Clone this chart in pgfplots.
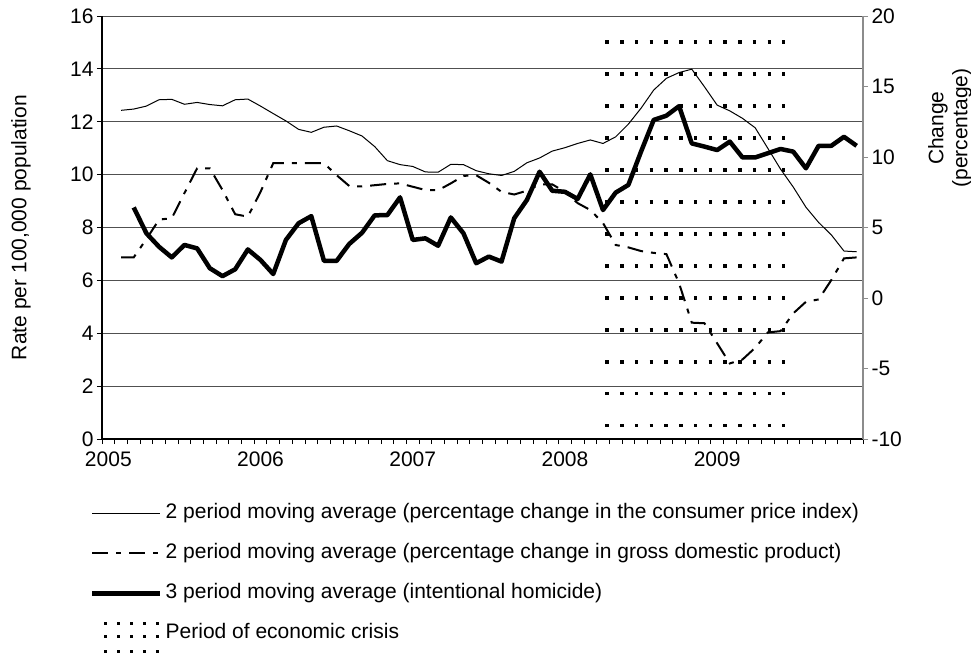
\documentclass[border=0pt]{standalone}
\usepackage{fontspec}
\setmainfont{Liberation Sans}
\usepackage{pgfplots}
\usepackage{pgfplotstable}
\pgfplotsset{compat=1.18}
\definecolor{gridgray}{HTML}{505050}
\definecolor{axisgray}{HTML}{8C8C8C}
\newcommand{\chartfont}{\fontsize{21}{24}\selectfont}

% month index (1 = Jan 2005), right-axis percentages
\pgfplotstableread{
i cpi gdp
2 13.31 2.88
3 13.40 2.88
4 13.61 4.18
5 14.06 5.56
6 14.09 5.66
7 13.74 7.44
8 13.87 9.20
9 13.72 9.20
10 13.63 7.66
11 14.06 5.94
12 14.11 5.77
13 13.61 7.53
14 13.08 9.56
15 12.56 9.56
16 11.96 9.56
17 11.75 9.56
18 12.11 9.56
19 12.20 8.71
20 11.86 7.94
21 11.49 7.91
22 10.74 8.00
23 9.74 8.09
24 9.46 8.13
25 9.33 7.89
26 8.94 7.66
27 8.92 7.64
28 9.48 8.13
29 9.46 8.66
30 9.03 8.71
31 8.81 8.17
32 8.69 7.53
33 8.98 7.34
34 9.59 7.61
35 9.93 8.06
36 10.42 8.06
37 10.66 7.53
38 10.96 6.73
39 11.21 6.24
40 10.96 5.32
41 11.43 3.76
42 12.33 3.59
43 13.46 3.33
44 14.75 3.20
45 15.58 3.11
46 15.99 1.04
47 16.23 -1.75
48 14.98 -1.79
49 13.68 -3.21
50 13.27 -4.64
51 12.74 -4.36
52 12.07 -3.53
53 10.61 -2.44
54 9.14 -2.35
55 7.87 -1.09
56 6.44 -0.27
57 5.36 -0.10
58 4.48 1.27
59 3.33 2.81
60 3.28 2.88
}\macrotable

% intentional homicide, rate per 100,000
\pgfplotstableread{
i rate
3 8.76
4 7.78
5 7.27
6 6.87
7 7.34
8 7.21
9 6.46
10 6.16
11 6.42
12 7.17
13 6.77
14 6.24
15 7.53
16 8.16
17 8.43
18 6.74
19 6.74
20 7.38
21 7.80
22 8.46
23 8.47
24 9.14
25 7.53
26 7.59
27 7.31
28 8.38
29 7.78
30 6.65
31 6.90
32 6.71
33 8.35
34 9.04
35 10.11
36 9.39
37 9.35
38 9.08
39 10.01
40 8.66
41 9.32
42 9.61
43 10.87
44 12.07
45 12.23
46 12.59
47 11.18
48 11.06
49 10.93
50 11.25
51 10.65
52 10.65
53 10.81
54 10.97
55 10.87
56 10.24
57 11.09
58 11.09
59 11.43
60 11.09
}\homtable

\begin{document}
\begin{tikzpicture}
\pgfplotsset{
  tick label style={font=\chartfont, black},
  /pgf/number format/assume math mode=true,
}
\begin{axis}[name=ax, scale only axis, width=761pt, height=423pt,
  xmin=0.5, xmax=60.5, ymin=0, ymax=16,
  axis x line*=bottom, axis y line*=left,
  axis line style={black, line width=1.2pt},
  ytick={0,2,...,16}, ymajorgrids, grid style={gridgray, line width=0.9pt},
  xtick={1,13,25,37,49}, xticklabels={2005,2006,2007,2008,2009},
  xticklabel style={yshift=-4pt},
  major x tick style={draw=none},
  minor xtick={0.5,1.5,...,60.5},
  tick align=outside, major tick length=5pt, minor tick length=5pt,
  tick style={black, line width=0.8pt},
  ylabel={Rate per 100,000 population},
  every axis y label/.style={at={(axis description cs:-0.1064,0.5)}, rotate=90, anchor=center, font=\chartfont},
]
% period of economic crisis: dotted block, Apr 2008 - Jun 2009
\addplot[black, line width=3.4pt, dash pattern=on 3.4pt off 11.35pt,
  unbounded coords=jump, forget plot] coordinates {
  (40.19,0.50) (54.35,0.50) (40.19,nan)
  (40.19,1.71) (54.35,1.71) (40.19,nan)
  (40.19,2.92) (54.35,2.92) (40.19,nan)
  (40.19,4.13) (54.35,4.13) (40.19,nan)
  (40.19,5.34) (54.35,5.34) (40.19,nan)
  (40.19,6.55) (54.35,6.55) (40.19,nan)
  (40.19,7.76) (54.35,7.76) (40.19,nan)
  (40.19,8.97) (54.35,8.97) (40.19,nan)
  (40.19,10.18) (54.35,10.18) (40.19,nan)
  (40.19,11.39) (54.35,11.39) (40.19,nan)
  (40.19,12.60) (54.35,12.60) (40.19,nan)
  (40.19,13.81) (54.35,13.81) (40.19,nan)
  (40.19,15.02) (54.35,15.02)};
\addplot[black, line width=4.5pt, line join=round, forget plot] table[x=i, y=rate] {\homtable};
\end{axis}

\begin{axis}[scale only axis, width=761pt, height=423pt,
  xmin=0.5, xmax=60.5, ymin=-10, ymax=20,
  axis x line=none, axis y line*=right,
  ytick={-10,-5,...,20},
  y axis line style={axisgray, line width=1.2pt},
  ytick style={axisgray, line width=0.8pt},
  tick align=outside, major tick length=5pt,
  ylabel={Change\\(percentage)},
  every axis y label/.style={at={(axis description cs:1.1143,0.735)}, rotate=90, anchor=center, align=center, font=\chartfont},
  legend image code/.code={\draw[#1] (0pt,0pt) -- (68pt,0pt);},
  legend cell align=left,
  legend style={draw=none, fill=none, inner sep=0pt, at={(-0.0158,-0.152)}, anchor=north west,
    font=\chartfont, row sep=20.4pt,
    /tikz/every odd column/.append style={column sep=3pt},
    nodes={inner sep=0pt, text height=15.2pt, text depth=4.4pt}},
]
\addplot[black, line width=1pt, line join=round] table[x=i, y=cpi] {\macrotable};
\addlegendentry{2 period moving average (percentage change in the consumer price index)}
\addplot[black, line width=2pt, dash pattern=on 16pt off 8pt on 5pt off 8pt] table[x=i, y=gdp] {\macrotable};
\addlegendentry{2 period moving average (percentage change in gross domestic product)}
\addlegendimage{black, line width=4.5pt}
\addlegendentry{3 period moving average (intentional homicide)}
\addlegendimage{legend image code/.code={%
  \begin{pgfinterruptboundingbox}
  \draw[black, line width=3pt, dash pattern=on 3pt off 10pt]
    (12pt,10pt) -- (68pt,10pt) (12pt,-3pt) -- (68pt,-3pt) (12pt,-18pt) -- (68pt,-18pt);
  \end{pgfinterruptboundingbox}
  \path (0pt,0pt) (68pt,0pt);}}
\addlegendentry{Period of economic crisis}
\end{axis}
\pgfresetboundingbox
\useasboundingbox ([shift={(-102pt,-215pt)}]ax.south west) rectangle ([shift={(869pt,439pt)}]ax.south west);
\end{tikzpicture}
\end{document}
